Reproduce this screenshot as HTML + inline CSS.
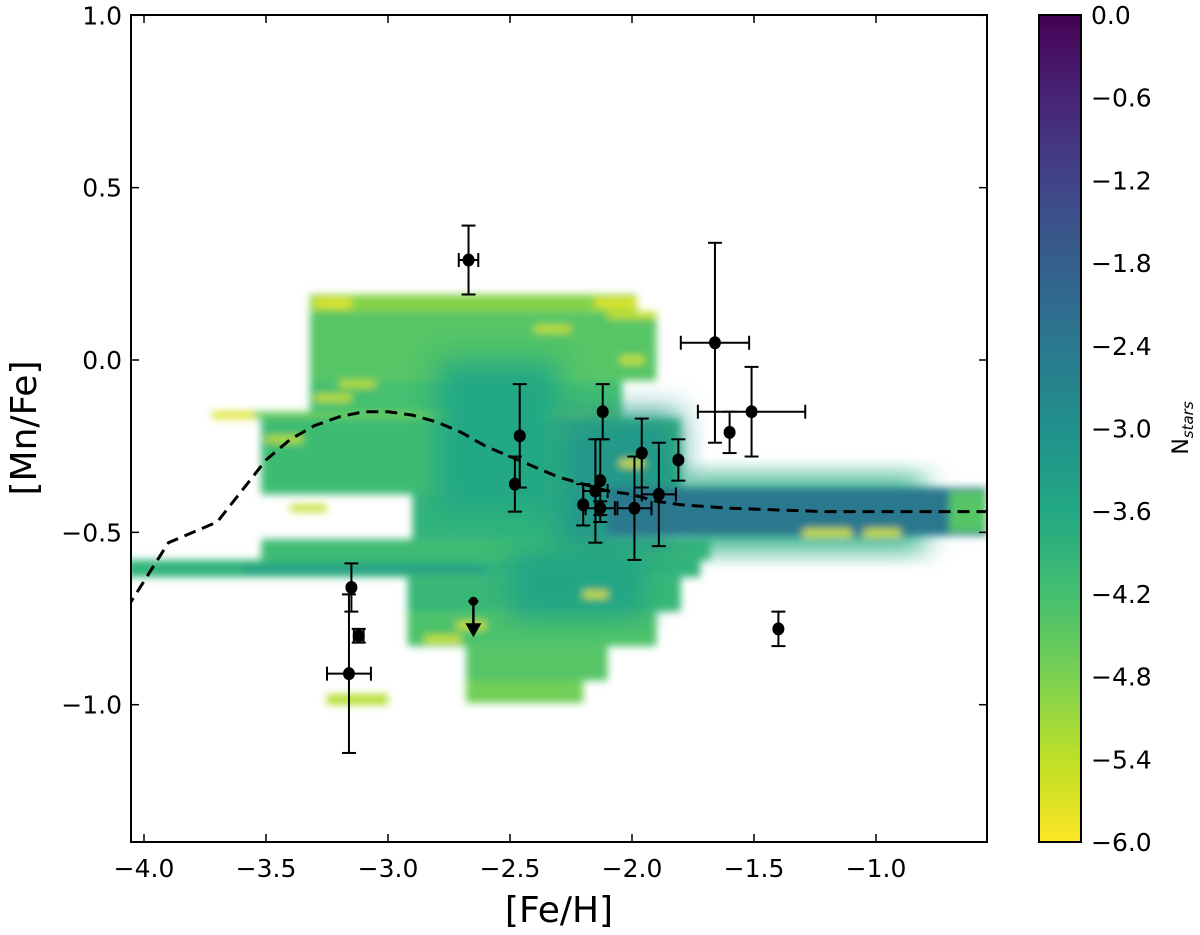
<!DOCTYPE html>
<html><head><meta charset="utf-8"><style>
body{margin:0;background:#fff}
svg text{font-family:"DejaVu Sans","Liberation Sans",sans-serif;fill:#000}
</style></head><body>
<svg id="chart" width="1200" height="930" viewBox="0 0 1200 930">
<defs>
<linearGradient id="vir" x1="0" y1="0" x2="0" y2="1">
<stop offset="0" stop-color="#440154"/><stop offset="0.1" stop-color="#482475"/><stop offset="0.2" stop-color="#414487"/><stop offset="0.3" stop-color="#355f8d"/><stop offset="0.4" stop-color="#2a788e"/><stop offset="0.5" stop-color="#21918c"/><stop offset="0.6" stop-color="#22a884"/><stop offset="0.7" stop-color="#44bf70"/><stop offset="0.8" stop-color="#7ad151"/><stop offset="0.9" stop-color="#bddf26"/><stop offset="1" stop-color="#fde725"/>
</linearGradient>
<filter id="blur" x="-5%" y="-5%" width="110%" height="110%"><feGaussianBlur stdDeviation="4"/></filter>
<filter id="blur2" x="-20%" y="-20%" width="140%" height="140%"><feGaussianBlur stdDeviation="14"/></filter>
<clipPath id="clip"><rect x="131" y="15" width="856" height="827"/></clipPath>
</defs>
<g clip-path="url(#clip)"><g id="heat" filter="url(#blur)"></g></g>
<g id="curve" clip-path="url(#clip)"></g>
<g id="pts"></g>
<rect x="131" y="15" width="856" height="827" fill="none" stroke="#000" stroke-width="2"/>
<g id="axes"></g>
<text x="559" y="922" font-size="36" text-anchor="middle">[Fe/H]</text>
<text transform="translate(36,428) rotate(-90)" font-size="36" text-anchor="middle">[Mn/Fe]</text>
<rect x="1039" y="15" width="42" height="827" fill="url(#vir)" stroke="#000" stroke-width="2"/>
<text transform="translate(1188,428) rotate(-90)" font-size="22" text-anchor="middle">N<tspan font-style="italic" font-size="15" dy="5">stars</tspan></text>
</svg>
<script>
const xTicks=[-4.0,-3.5,-3.0,-2.5,-2.0,-1.5,-1.0];
const yTicks=[1.0,0.5,0.0,-0.5,-1.0];
const cbTicks=[0.0,-0.6,-1.2,-1.8,-2.4,-3.0,-3.6,-4.2,-4.8,-5.4,-6.0];
// heatmap bands: top y, bottom y, x start, x end, log N value
const bandTop=[0.19,0.14,-0.06,-0.15,-0.17,-0.39,-0.52,-0.58,-0.63,-0.73,-0.83,-0.93,-0.97, 0.0,-0.15,-0.34,-0.37,-0.55,-0.6,-0.38, 0.18,0.18,-0.15,-0.49,-0.76,-0.8,-0.67,0.01,-0.29,-0.49,0.1,-0.1,0.14,-0.06,-0.42,-0.22];
const bandBot=[0.14,-0.06,-0.15,-0.17,-0.39,-0.52,-0.58,-0.63,-0.73,-0.83,-0.93,-0.995,-1.0, -0.45,-0.55,-0.55,-0.51,-0.75,-0.615,-0.5, 0.15,0.15,-0.17,-0.51,-0.78,-0.82,-0.69,-0.01,-0.31,-0.51,0.08,-0.12,0.12,-0.08,-0.44,-0.24];
const bandX0=[-3.32,-3.32,-3.32,-3.72,-3.52,-2.9,-3.52,-4.07,-2.92,-2.92,-2.68,-2.68,-3.25, -2.8,-2.3,-1.8,-2.1,-2.5,-3.6,-0.7, -3.3,-2.15,-3.72,-1.3,-2.72,-2.85,-2.2,-2.05,-2.05,-1.05,-2.4,-3.3,-2.1,-3.2,-3.4,-3.5];
const bandX1=[-1.98,-1.9,-2.04,-2.04,-1.8,-2.1,-1.68,-1.72,-1.8,-1.9,-2.1,-2.2,-3.0, -2.3,-1.8,-0.8,-0.545,-1.95,-2.6,-0.545, -3.15,-1.98,-3.55,-1.1,-2.6,-2.7,-2.1,-1.95,-1.95,-0.9,-2.25,-3.15,-1.9,-3.05,-3.25,-3.35];
const bandV=[-4.9,-4.4,-4.2,-4.6,-4.1,-3.9,-4.1,-3.9,-4.0,-4.3,-4.4,-4.7,-5.3, -3.6,-3.2,-3.7,-2.4,-3.5,-3.1,-4.4, -5.7,-5.7,-5.7,-5.6,-5.6,-5.6,-5.6,-5.6,-5.6,-5.6,-5.5,-5.5,-5.5,-5.4,-5.4,-5.4];
const curveX=[-4.07,-3.9,-3.8,-3.7,-3.6,-3.5,-3.4,-3.3,-3.2,-3.1,-3.0,-2.9,-2.8,-2.7,-2.6,-2.5,-2.4,-2.3,-2.2,-2.1,-2.0,-1.9,-1.8,-1.6,-1.4,-1.2,-0.8,-0.5];
const curveY=[-0.72,-0.53,-0.5,-0.47,-0.38,-0.29,-0.23,-0.19,-0.165,-0.15,-0.15,-0.16,-0.18,-0.21,-0.25,-0.28,-0.31,-0.34,-0.36,-0.38,-0.39,-0.41,-0.42,-0.43,-0.435,-0.44,-0.44,-0.44];
const ptX=[-2.67,-1.66,-1.51,-1.60,-2.46,-2.12,-2.48,-1.96,-1.81,-2.13,-2.15,-2.20,-2.13,-1.99,-1.89,-3.15,-3.12,-3.16,-1.40];
const ptY=[0.29,0.05,-0.15,-0.21,-0.22,-0.15,-0.36,-0.27,-0.29,-0.35,-0.38,-0.42,-0.43,-0.43,-0.39,-0.66,-0.80,-0.91,-0.78];
const ptXerr=[0.04,0.14,0.22,0,0,0,0,0,0,0,0.05,0,0.06,0.07,0.07,0,0.02,0.09,0];
const ptYerr=[0.10,0.29,0.13,0.06,0.15,0.08,0.08,0.10,0.06,0.12,0.15,0.06,0.02,0.15,0.15,0.07,0.02,0.23,0.05];
const limX=[-2.65], limY=[-0.70];

const NS='http://www.w3.org/2000/svg';
const X=v=>144+(v+4)*244;
const Y=v=>360-v*344.7;
const CB=v=>15+(-v/6)*827;
const stops=[[0,'#440154'],[.1,'#482475'],[.2,'#414487'],[.3,'#355f8d'],[.4,'#2a788e'],[.5,'#21918c'],[.6,'#22a884'],[.7,'#44bf70'],[.8,'#7ad151'],[.9,'#bddf26'],[1,'#fde725']];
function cmap(v){const t=Math.min(1,Math.max(0,-v/6));for(let i=1;i<stops.length;i++){if(t<=stops[i][0]){const a=stops[i-1],b=stops[i],f=(t-a[0])/(b[0]-a[0]);const p=s=>[1,3,5].map(k=>parseInt(s.substr(k,2),16));const A=p(a[1]),B=p(b[1]);return 'rgb('+A.map((c,k)=>Math.round(c+(B[k]-c)*f)).join(',')+')';}}return stops[10][1];}
function mk(tag,attrs,parent){const e=document.createElementNS(NS,tag);for(const k in attrs)e.setAttribute(k,attrs[k]);parent.appendChild(e);return e;}

const heat=document.getElementById('heat');
bandTop.forEach((t,i)=>{
 const x0=X(bandX0[i]),x1=X(bandX1[i]),y0=Y(t),y1=Y(bandBot[i]);
 const inner=(i>=13&&i<=18);
 const r=mk('rect',{x:x0,y:y0,width:x1-x0,height:y1-y0,fill:cmap(bandV[i])},heat);
 if(inner&&i!==16&&i!==18) r.setAttribute('filter','url(#blur2)');
 
 
});
const cg=document.getElementById('curve');
const c=mk('path',{d:curveX.map((x,i)=>(i?'L':'M')+X(x)+' '+Y(curveY[i])).join(''),fill:'none',stroke:'#000','stroke-width':3,'stroke-dasharray':'12,7'},cg);



const pg=document.getElementById('pts');
ptX.forEach((x,i)=>{
 const g=mk('g',{stroke:'#000','stroke-width':2},pg);
 
 
 const cx=X(x),cy=Y(ptY[i]);
 if(ptYerr[i]>0){const y0=Y(ptY[i]+ptYerr[i]),y1=Y(ptY[i]-ptYerr[i]);
  mk('line',{x1:cx,y1:y0,x2:cx,y2:y1},g);mk('line',{x1:cx-7,y1:y0,x2:cx+7,y2:y0},g);mk('line',{x1:cx-7,y1:y1,x2:cx+7,y2:y1},g);}
 if(ptXerr[i]>0){const x0=X(x-ptXerr[i]),x1=X(x+ptXerr[i]);
  mk('line',{x1:x0,y1:cy,x2:x1,y2:cy},g);mk('line',{x1:x0,y1:cy-7,x2:x0,y2:cy+7},g);mk('line',{x1:x1,y1:cy-7,x2:x1,y2:cy+7},g);}
 mk('ellipse',{cx:cx,cy:cy,rx:6,ry:6.5,fill:'#000',stroke:'none'},g);
});
limX.forEach((x,i)=>{
 const g=mk('g',{stroke:'#000','stroke-width':2.5},pg);
 
 
 const cx=X(x),cy=Y(limY[i]);
 mk('line',{x1:cx,y1:cy,x2:cx,y2:cy+26},g);
 mk('line',{x1:cx-5,y1:cy,x2:cx+5,y2:cy},g);
 mk('polygon',{points:`${cx-8},${cy+22} ${cx+8},${cy+22} ${cx},${cy+36}`,fill:'#000',stroke:'none'},g);
 mk('circle',{cx:cx,cy:cy,r:4.5,fill:'#000',stroke:'none'},g);
});
const ax=document.getElementById('axes');
const fmt=v=>(v<0?'\u2212':'')+Math.abs(v).toFixed(1);
xTicks.forEach(v=>{const x=X(v);
 mk('line',{x1:x,y1:842,x2:x,y2:834,stroke:'#000','stroke-width':1.5},ax);
 mk('line',{x1:x,y1:15,x2:x,y2:23,stroke:'#000','stroke-width':1.5},ax);
 const t=mk('text',{x:x,y:877,'font-size':25,'text-anchor':'middle'},ax);t.textContent=fmt(v);
 
 });
yTicks.forEach(v=>{const y=Y(v);
 mk('line',{x1:131,y1:y,x2:139,y2:y,stroke:'#000','stroke-width':1.5},ax);
 mk('line',{x1:987,y1:y,x2:979,y2:y,stroke:'#000','stroke-width':1.5},ax);
 const t=mk('text',{x:122,y:y+9,'font-size':25,'text-anchor':'end'},ax);t.textContent=fmt(v);
 
 });
cbTicks.forEach(v=>{const y=CB(v);
 mk('line',{x1:1073,y1:y,x2:1081,y2:y,stroke:'#000','stroke-width':1.5},ax);
 const t=mk('text',{x:1091,y:y+9,'font-size':25},ax);t.textContent=fmt(v);
 
 });
</script>
</body></html>
